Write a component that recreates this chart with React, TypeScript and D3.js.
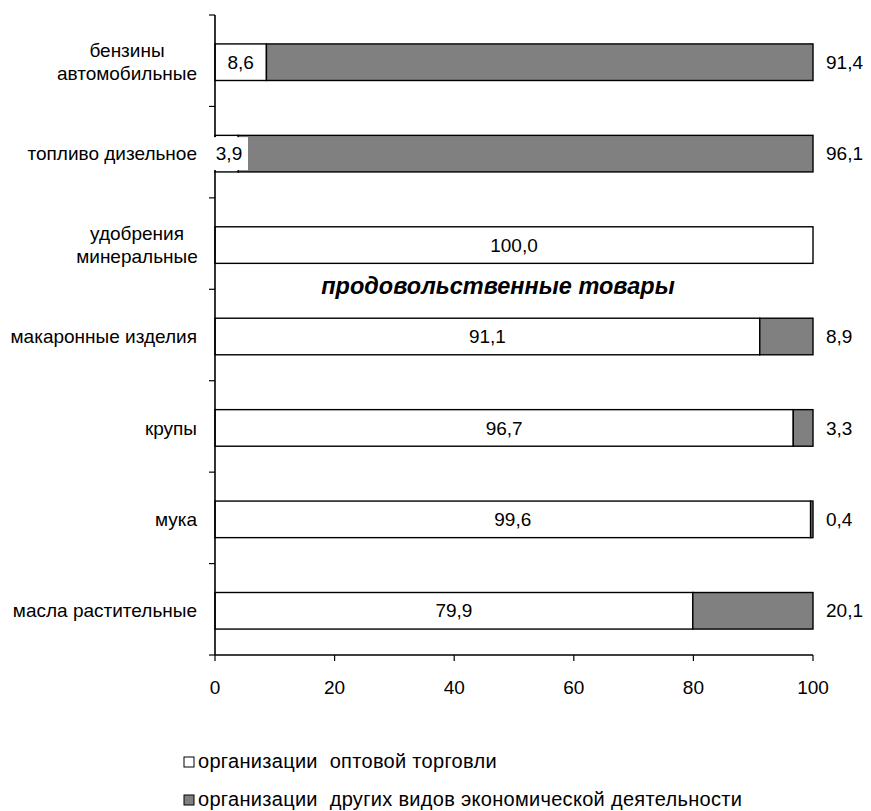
import React from "react";
import * as d3 from "d3";

const categories: string[][] = [
  ["бензины", "автомобильные"],
  ["топливо дизельное"],
  ["удобрения", "минеральные"],
  ["макаронные изделия"],
  ["крупы"],
  ["мука"],
  ["масла растительные"],
];
const wholesale: number[] = [8.6, 3.9, 100.0, 91.1, 96.7, 99.6, 79.9];
const other: number[] = [91.4, 96.1, 0, 8.9, 3.3, 0.4, 20.1];
const xTicks: number[] = [0, 20, 40, 60, 80, 100];
const seriesNames: string[] = [
  "организации оптовой торговли",
  "организации других видов экономической деятельности",
];
const sectionTitle = "продовольственные товары";

const W = 871;
const H = 811;
const FONT = "Arial, 'Liberation Sans', sans-serif";
const GRAY = "#808080";

export default function App() {
  const x = d3.scaleLinear().domain([0, 100]).range([215, 813]);
  const idx = categories.map((_, i) => String(i));
  const y = d3.scaleBand<string>().domain(idx).range([15, 655]).paddingInner(0.6).paddingOuter(0.3);
  const step = y.step();
  const bw = y.bandwidth();
  const off = 1.5;
  const fmt = (v: number) => d3.format(".1f")(v).replace(".", ",");
  const tickYs = d3.range(categories.length + 1).map((i) => 15 + i * step);
  const fs = 19;

  return (
    <svg width={W} height={H} style={{ position: "absolute", left: 0, top: 0, background: "#fff" }} fontFamily={FONT}>
      <rect x={0} y={0} width={W} height={H} fill="#fff" />
      {/* bars */}
      {idx.map((k, i) => {
        const y0 = (y(k) as number) + off;
        return (
          <g key={k}>
            <rect x={x(0)} y={y0} width={x(wholesale[i]) - x(0)} height={bw} fill="#fff" stroke="#000" strokeWidth={1.4} />
            {other[i] > 0 && (
              <rect x={x(wholesale[i])} y={y0} width={x(100) - x(wholesale[i])} height={bw} fill={GRAY} stroke="#000" strokeWidth={1.4} />
            )}
          </g>
        );
      })}
      {/* y axis */}
      <line x1={215} x2={215} y1={15} y2={655} stroke="#000" strokeWidth={1.6} />
      {tickYs.map((t, i) => (
        <line key={i} x1={209} x2={215} y1={t} y2={t} stroke="#000" strokeWidth={1.2} />
      ))}
      {/* x axis */}
      <line x1={x(0)} x2={x(100)} y1={655} y2={655} stroke="#000" strokeWidth={1.4} />
      {xTicks.map((t) => (
        <g key={t}>
          <line x1={x(t)} x2={x(t)} y1={655} y2={661} stroke="#000" strokeWidth={1.2} />
          <text x={x(t)} y={694} fontSize={fs} textAnchor="middle" fill="#000">{t}</text>
        </g>
      ))}
      {/* value labels */}
      {idx.map((k, i) => {
        const cy = (y(k) as number) + off + bw / 2;
        const small = i === 1;
        const lx = small ? 229 : (x(0) + x(wholesale[i])) / 2;
        return (
          <g key={"l" + k}>
            {small && <rect x={213} y={cy - 16.5} width={35} height={33} fill="#fff" />}
            <text x={lx} y={cy} dy="0.35em" fontSize={fs} textAnchor="middle" fill="#000">{fmt(wholesale[i])}</text>
            {other[i] > 0 && (
              <text x={826} y={cy} dy="0.35em" fontSize={fs} textAnchor="start" fill="#000">{fmt(other[i])}</text>
            )}
          </g>
        );
      })}
      {/* category labels */}
      {idx.map((k, i) => {
        const cy = (y(k) as number) + off + bw / 2;
        const lines = categories[i];
        if (lines.length === 1) {
          return (
            <text key={"c" + k} x={197} y={cy} dy="0.35em" fontSize={fs} textAnchor="end" fill="#000">{lines[0]}</text>
          );
        }
        const cx = i === 0 ? 127 : 137;
        return (
          <text key={"c" + k} x={cx} y={cy} fontSize={fs} textAnchor="middle" fill="#000">
            <tspan x={cx} dy="-0.25em">{lines[0]}</tspan>
            <tspan x={cx} dy="1.2em">{lines[1]}</tspan>
          </text>
        );
      })}
      {/* section title */}
      <text x={498} y={294} fontSize={23.5} fontWeight="bold" fontStyle="italic" textAnchor="middle" fill="#000">{sectionTitle}</text>
      {/* legend */}
      {seriesNames.map((n, i) => {
        const words = n.split(" ");
        return (
          <g key={n}>
            <rect x={184} y={757 + i * 38} width={10} height={10} fill={i === 0 ? "#fff" : GRAY} stroke="#000" strokeWidth={1} />
            <text x={198} y={768 + i * 38} fontSize={20} letterSpacing={0.3} fill="#000">
              <tspan>{words[0]}</tspan>
              <tspan dx={6}>{" " + words.slice(1).join(" ")}</tspan>
            </text>
          </g>
        );
      })}
    </svg>
  );
}
